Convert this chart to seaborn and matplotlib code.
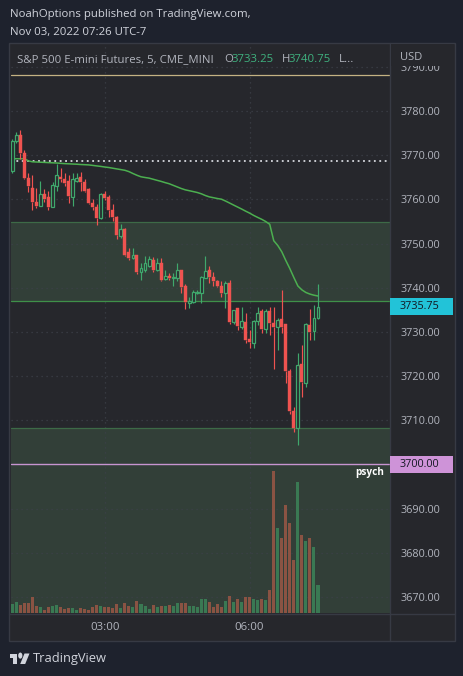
import numpy as np
import pandas as pd
import matplotlib
matplotlib.use("Agg")
import matplotlib.pyplot as plt
import matplotlib.transforms as mtransforms
from matplotlib.patches import Rectangle, Polygon, Circle
from matplotlib.lines import Line2D
import seaborn as sns

# ---------------- data ----------------
opens = [3766.5, 3773.25, 3774.5, 3770.5, 3764.75, 3762.5, 3759.5, 3758.5, 3761.25, 3760.5,
         3758.25, 3763.0, 3765.0, 3764.5, 3764.25, 3760.5, 3764.25, 3765.0, 3764.0, 3762.25,
         3759.25, 3758.25, 3755.75, 3761.25, 3760.5, 3757.5, 3756.0, 3751.75, 3753.25, 3748.0,
         3746.75, 3747.5, 3743.5, 3744.0, 3745.0, 3746.25, 3744.0, 3745.5, 3742.0, 3742.75,
         3742.25, 3742.25, 3744.0, 3740.5, 3736.5, 3736.75, 3738.75, 3738.75, 3742.25, 3744.0,
         3742.5, 3741.5, 3740.5, 3738.75, 3741.0, 3732.25, 3735.5, 3731.0, 3732.25, 3728.5,
         3727.5, 3732.5, 3734.75, 3730.75, 3734.75, 3732.0, 3731.0, 3733.0, 3731.75, 3721.25,
         3712.0, 3708.25, 3722.75, 3718.5, 3731.5, 3730.25, 3733.25]
highs = [3773.75, 3775.25, 3775.75, 3771.25, 3766.0, 3765.5, 3762.5, 3764.25, 3762.25, 3762.0,
         3764.0, 3768.0, 3767.0, 3766.0, 3765.5, 3766.0, 3766.0, 3766.25, 3764.5, 3762.5,
         3760.0, 3759.0, 3761.5, 3762.0, 3761.0, 3759.0, 3756.25, 3754.5, 3753.5, 3749.0,
         3749.0, 3747.5, 3745.5, 3747.25, 3747.25, 3747.0, 3746.75, 3746.75, 3744.0, 3743.25,
         3743.25, 3745.5, 3744.0, 3740.75, 3738.0, 3739.5, 3739.5, 3742.75, 3747.25, 3745.0,
         3743.5, 3741.75, 3741.5, 3741.5, 3741.75, 3735.0, 3735.5, 3735.75, 3734.25, 3730.5,
         3732.75, 3735.75, 3735.25, 3735.25, 3735.75, 3735.75, 3733.25, 3739.5, 3731.75, 3721.5,
         3713.0, 3725.25, 3727.0, 3732.0, 3735.25, 3736.0, 3740.75]
lows = [3766.0, 3772.75, 3769.25, 3764.5, 3761.75, 3757.5, 3758.0, 3758.5, 3759.5, 3757.5,
        3758.25, 3762.0, 3764.0, 3763.0, 3759.25, 3758.5, 3764.0, 3762.0, 3761.75, 3759.0,
        3757.5, 3754.25, 3755.5, 3759.75, 3756.0, 3755.0, 3751.0, 3751.25, 3747.25, 3746.25,
        3746.5, 3743.0, 3741.75, 3743.5, 3744.75, 3743.5, 3743.75, 3741.5, 3741.75, 3741.75,
        3740.5, 3741.5, 3738.75, 3735.25, 3735.5, 3736.5, 3738.5, 3736.5, 3742.25, 3741.0,
        3740.5, 3740.25, 3738.0, 3735.5, 3731.75, 3731.75, 3730.5, 3730.75, 3727.5, 3726.25,
        3726.25, 3731.5, 3729.75, 3729.75, 3729.25, 3721.5, 3726.0, 3729.75, 3718.5, 3711.5,
        3707.25, 3704.5, 3715.25, 3717.5, 3728.25, 3728.25, 3733.0]
closes = [3773.25, 3774.5, 3770.5, 3764.75, 3763.0, 3759.5, 3758.5, 3761.25, 3760.0, 3758.25,
          3763.25, 3765.5, 3764.5, 3763.75, 3760.75, 3764.5, 3764.75, 3764.0, 3762.0, 3759.25,
          3758.25, 3755.75, 3761.25, 3760.25, 3757.5, 3756.0, 3752.0, 3753.25, 3747.5, 3746.75,
          3747.5, 3743.5, 3744.5, 3745.5, 3746.5, 3744.0, 3745.5, 3741.75, 3742.75, 3742.25,
          3742.5, 3744.0, 3740.25, 3736.75, 3737.0, 3739.0, 3739.0, 3742.5, 3743.75, 3742.5,
          3741.5, 3740.5, 3738.75, 3741.0, 3732.25, 3735.0, 3731.25, 3732.5, 3728.25, 3727.75,
          3732.5, 3734.25, 3730.75, 3734.75, 3732.0, 3731.0, 3732.75, 3731.0, 3721.25, 3712.0,
          3708.25, 3722.5, 3718.75, 3731.75, 3730.0, 3733.25, 3735.75]
volumes = [27, 33, 24, 30, 30, 48, 21, 18, 9, 18,
           21, 24, 18, 12, 15, 15, 9, 15, 12, 9,
           18, 24, 21, 18, 18, 15, 27, 15, 30, 21,
           18, 36, 27, 21, 12, 24, 18, 21, 21, 24,
           21, 30, 30, 30, 21, 21, 18, 42, 42, 33,
           18, 27, 18, 36, 51, 33, 42, 33, 48, 48,
           42, 39, 42, 39, 69, 426, 255, 225, 324, 270,
           159, 393, 234, 216, 225, 198, 84]
vwap = [3769.2, 3769.2, 3769.2, 3769.2, 3768.71, 3768.5, 3768.46, 3768.41, 3768.37, 3768.32,
        3768.28, 3768.23, 3768.16, 3768.09, 3768.05, 3768.0, 3767.96, 3767.89, 3767.85, 3767.8,
        3767.69, 3767.57, 3767.46, 3767.32, 3767.21, 3767.05, 3766.89, 3766.74, 3766.58, 3766.28,
        3765.85, 3765.45, 3765.11, 3764.95, 3764.81, 3764.56, 3764.31, 3764.07, 3763.79, 3763.54,
        3763.18, 3762.82, 3762.46, 3762.16, 3761.96, 3761.76, 3761.55, 3761.26, 3760.87, 3760.56,
        3760.38, 3760.19, 3760.04, 3759.63, 3759.18, 3758.72, 3758.27, 3757.82, 3757.34, 3756.89,
        3756.37, 3755.92, 3755.49, 3754.99, 3754.36, 3750.64, 3749.56, 3748.13, 3746.16, 3744.33,
        3742.31, 3740.39, 3739.51, 3738.92, 3738.56, 3738.31, 3738.13]

price_ticks = [3670, 3680, 3690, 3700, 3710, 3720, 3730, 3740, 3750, 3760, 3770, 3780, 3790]
time_tick_idx = [23, 59]
time_tick_labels = ["03:00", "06:00"]

zone_upper = (3736.9, 3754.8)
zone_lower = (3640.0, 3708.2)
tan_level = 3788.1
white_level = 3768.6
psych_level = 3700.0
last_price = 3735.75

title_text = "NoahOptions published on TradingView.com,"
date_text = "Nov 03, 2022 07:26 UTC-7"
symbol_text = "S&P 500 E-mini Futures, 5, CME_MINI"
ohlc_header = [("O", "3733.25"), ("H", "3740.75")]

# ---------------- styling ----------------
W, H = 464, 676
OUT_BG = "#1e222d"
PANEL_BG = "#26272c"
ZONE = "#323f38"
GRID = "#3c3f49"
BORDER = "#373a44"
TXT = "#b2b5be"
TXT_LIGHT = "#d1d4dc"
RED = "#ef5350"
GREEN = "#3fa86c"
VOL_UP = "#3a7953"
VOL_DN = "#8a5343"
VWAP_C = "#4caf50"

sns.set_theme(style="dark")
plt.rcParams['font.family'] = ['Open Sans', 'DejaVu Sans']

fig = plt.figure(figsize=(W / 100, H / 100), dpi=100, facecolor=OUT_BG)


def fx(px):
    return px / W


def fy(py):
    return 1 - py / H


# chart panel
fig.add_artist(Rectangle((fx(9), fy(641)), fx(455) - fx(9), fy(43) - fy(641),
                         transform=fig.transFigure, facecolor=PANEL_BG,
                         edgecolor=BORDER, lw=1.0, zorder=-5))

ax = fig.add_axes([fx(11), fy(613), fx(390) - fx(11), fy(45) - fy(613)])
ax.set_facecolor(PANEL_BG)
n = len(opens)
idx = np.arange(n)
xlim = (-0.32, 93.9)
ylim = (3666.38, 3794.94)

# zones
ax.axhspan(*zone_upper, color=ZONE, lw=0, zorder=0.2)
ax.axhspan(*zone_lower, color=ZONE, lw=0, zorder=0.2)
ax.axhline(zone_upper[1], color="#3d6a47", lw=0.9, zorder=0.6)
ax.axhline(zone_upper[0], color="#3f9049", lw=0.9, zorder=0.6)
ax.axhline(zone_lower[1], color="#3d6a47", lw=0.9, zorder=0.6)

# reference lines
ax.axhline(tan_level, color="#c4b283", lw=0.9, zorder=0.7)
ax.axhline(white_level, color="#d6d8de", lw=1.3, ls=(0, (1, 2)), zorder=0.7)
ax.axhline(psych_level, color="#c794d0", lw=1.0, zorder=0.7)

# VWAP line
sns.lineplot(x=idx, y=vwap, ax=ax, color=VWAP_C, lw=1.1, zorder=2, legend=False)

# candles
for i in range(n):
    o, h, l, c = opens[i], highs[i], lows[i], closes[i]
    up = c >= o
    col = GREEN if up else RED
    top, bot = max(o, c), min(o, c)
    hgt = max(top - bot, 0.12)
    if up:
        ax.bar(i, hgt, bottom=bot, width=0.72, facecolor=PANEL_BG, edgecolor=col,
               lw=0.9, zorder=3)
    else:
        ax.bar(i, hgt, bottom=bot, width=0.75, facecolor=col, edgecolor=col,
               lw=0.3, zorder=3)
    if h > top:
        ax.vlines(i, top, h, color=col, lw=0.85, zorder=2.9)
    if l < bot:
        ax.vlines(i, l, bot, color=col, lw=0.85, zorder=2.9)

ax.set_xlim(*xlim)
ax.set_ylim(*ylim)
ax.set_axisbelow(True)
ax.set_xticks(time_tick_idx)
ax.set_xticklabels(time_tick_labels)
ax.set_xlabel("")
ax.set_ylabel("")
for s in ax.spines.values():
    s.set_visible(False)

# volume on twin axis
axv = ax.twinx()
vdf = pd.DataFrame({"idx": idx, "vol": volumes,
                    "dir": ["up" if closes[i] >= opens[i] else "down" for i in range(n)]})
sns.barplot(data=vdf, x="idx", y="vol", hue="dir", palette={"up": VOL_UP, "down": VOL_DN},
            native_scale=True, width=0.75, dodge=False, legend=False, errorbar=None,
            saturation=1, linewidth=0, ax=axv)
axv.set_ylim(0, max(volumes) * 568 / 142)
axv.set_xlim(*xlim)
axv.axis("off")

# price scale on the right (set after twinx, which moves ticks left)
ax.yaxis.tick_right()
ax.set_yticks(price_ticks)
ax.set_yticklabels([f"{p:.2f}" for p in price_ticks])
ax.tick_params(axis="y", which="both", left=False, right=False, labelleft=False,
               labelright=True, length=0, pad=7.5, labelcolor=TXT, labelsize=7.8)
ax.tick_params(axis="x", length=0, pad=6.5, labelcolor=TXT, labelsize=8.2)
ax.grid(True, color=GRID, ls=(0, (1, 3)), lw=0.9)
ax.set_xlim(*xlim)

# borders
fig.add_artist(Line2D([fx(390.5), fx(390.5)], [fy(43), fy(641)], color=BORDER, lw=1.0, zorder=6))
fig.add_artist(Line2D([fx(9), fx(455)], [fy(613.5), fy(613.5)], color=BORDER, lw=1.0, zorder=6))

# price axis header cover + USD
fig.add_artist(Rectangle((fx(391), fy(65.5)), fx(454.5) - fx(391), fy(44) - fy(65.5),
                         transform=fig.transFigure, facecolor=PANEL_BG, lw=0, zorder=7))
fig.text(fx(400), fy(57.5), "USD", color=TXT, fontsize=8, va="center", ha="left", zorder=8)

# price badges
btr = mtransforms.blended_transform_factory(fig.transFigure, ax.transData)
for val, col in [(last_price, "#22c3d8"), (psych_level, "#ce93d8")]:
    fig.add_artist(Rectangle((fx(390), val - 1.85), fx(453) - fx(390), 3.7,
                             transform=btr, facecolor=col, lw=0, zorder=8))
    fig.text(fx(399.5), val, f"{val:.2f}", transform=btr, color="#131722",
             fontsize=7.8, va="center", ha="left", zorder=9)

# psych label
fig.text(fx(384), fy(472), "psych", color="#ffffff", fontsize=7.2, fontweight="bold",
         va="center", ha="right", zorder=9)

# header texts
fig.text(fx(10), fy(15), title_text, color=TXT_LIGHT, fontsize=8.2, va="center", ha="left")
fig.text(fx(10), fy(32), date_text, color=TXT_LIGHT, fontsize=8.2, va="center", ha="left")
fig.text(fx(17), fy(59.5), symbol_text, color=TXT, fontsize=8.2, va="center", ha="left", zorder=9)
hx = [(224, 232), (282, 289)]
for (lab, val), (xl, xv) in zip(ohlc_header, hx):
    fig.text(fx(xl), fy(59.5), lab, color=TXT, fontsize=8.2, va="center", ha="left", zorder=9)
    fig.text(fx(xv), fy(59.5), val, color="#3fb27f", fontsize=8.2, va="center", ha="left", zorder=9)
fig.text(fx(339), fy(59.5), "L...", color=TXT, fontsize=8.2, va="center", ha="left", zorder=9)

# TradingView logo + text
logo_c = TXT_LIGHT
fig.add_artist(Polygon([(fx(10), fy(653.5)), (fx(17.5), fy(653.5)), (fx(17.5), fy(664)),
                        (fx(13.5), fy(664)), (fx(13.5), fy(657.5)), (fx(10), fy(657.5))],
                       closed=True, transform=fig.transFigure, facecolor=logo_c, lw=0))
fig.add_artist(Circle((fx(20.3), fy(655.6)), 2.1 / W, transform=fig.transFigure,
                      facecolor=logo_c, lw=0))
fig.add_artist(Polygon([(fx(24.5), fy(653.5)), (fx(29.5), fy(653.5)), (fx(25.2), fy(664)),
                        (fx(20.2), fy(664))], closed=True, transform=fig.transFigure,
                       facecolor=logo_c, lw=0))
fig.text(fx(33), fy(658.5), "TradingView", color=logo_c, fontsize=9.3, va="center", ha="left")

fig.savefig("out.png", dpi=100, facecolor=OUT_BG)
